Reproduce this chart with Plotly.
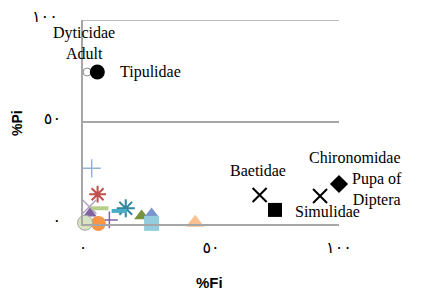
import plotly.graph_objects as go

# ---- data ----
tick_vals = [0, 50, 100]
tick_text = ["٠", "٥٠", "١٠٠"]

# labelled (black) taxa
black_names = ["Dyticidae Adult", "Tipulidae", "Baetidae", "Simulidae", "Chironomidae", "Pupa of Diptera"]
black_fi = [1.6, 5.6, 69.0, 75.0, 92.6, 100.0]
black_pi = [74.5, 74.5, 14.2, 6.9, 13.7, 19.6]

# unlabelled (coloured) taxa
color_fi = [3.4, 5.7, 2.5, 6.4, 2.7, 16.7, 14.2, 10.3, 22.9, 26.8, 26.8, 43.8, 6.0, -1.8, 0.8]
color_pi = [27.3, 14.6, 8.5, 7.7, 5.2, 7.7, 6.4, 2.0, 3.9, 5.2, 0.3, 0.6, 0.3, 1.1, 0.6]

# ---- styles ----
black_symbols = ["circle", "circle", "x-thin-open", "square", "x-thin-open", "diamond"]
black_sizes = [8, 15, 14, 14, 14, 14]
black_fill = ["white", "black", "black", "black", "black", "black"]
black_line = ["#888888", "black", "black", "black", "black", "black"]
black_lw = [1, 0, 2, 0, 2, 0]
# label offsets in pixels (dx, dy, anchor)
label_offsets = [(-3, 29, "center"), (21, 0, "left"), (-2, 25, "center"),
                 (52, -2, "center"), (35, 39, "center"), (38, -5, "center")]
label_text = ["Dyticidae<br>Adult", "Tipulidae", "Baetidae", "Simulidae", "Chironomidae", "Pupa of<br>Diptera"]

color_symbols = ["cross-thin-open", "asterisk-open", "x-thin-open", "line-ew-open", "triangle-up",
                 "asterisk-open", "line-ew-open", "cross-thin-open", "triangle-up", "triangle-up",
                 "square", "triangle-up", "circle", "square", "circle"]
color_colors = ["#95b3d7", "#c0504d", "#b3a2c7", "#b5cf8a", "#8064a2",
                "#31859c", "#4bacc6", "#8064a2", "#77933c", "#7a95d0",
                "#93cddd", "#fac090", "#f79646", "#b7dee8", "#d7e4bd"]
color_sizes = [13, 14, 14, 13, 12, 15, 11, 12, 13, 12, 15, 16, 15, 14, 15]
color_lw = [1.5, 2, 1.5, 4, 0, 2, 4, 1.5, 0, 0, 0, 0, 0, 1, 1]
color_lc = ["#95b3d7", "#c0504d", "#b3a2c7", "#b5cf8a", "#8064a2",
            "#31859c", "#4bacc6", "#8064a2", "#77933c", "#7a95d0",
            "#93cddd", "#fac090", "#f79646", "#4bacc6", "#a6a6a6"]

fig = go.Figure()

for i in range(len(color_fi)):
    fig.add_trace(go.Scatter(
        x=[color_fi[i]], y=[color_pi[i]], mode="markers", cliponaxis=False,
        marker=dict(symbol=color_symbols[i], size=color_sizes[i], color=color_colors[i],
                    line=dict(color=color_lc[i], width=color_lw[i])),
        showlegend=False, hoverinfo="skip"))

for i in range(len(black_fi)):
    fig.add_trace(go.Scatter(
        x=[black_fi[i]], y=[black_pi[i]], mode="markers", cliponaxis=False,
        marker=dict(symbol=black_symbols[i], size=black_sizes[i], color=black_fill[i],
                    line=dict(color=black_line[i], width=black_lw[i])),
        name=black_names[i], showlegend=False, hoverinfo="skip"))

annotations = []
serif = dict(family="Liberation Serif, Times New Roman, serif", size=16, color="black")
for i in range(len(black_fi)):
    dx, dy, anc = label_offsets[i]
    annotations.append(dict(x=black_fi[i], y=black_pi[i], xref="x", yref="y",
                            text=label_text[i], showarrow=False, xshift=dx, yshift=dy,
                            xanchor=anc, yanchor="middle", font=serif))

digit_font = dict(family="DejaVu Sans", size=16, color="black")
# top y tick label (placed as an annotation so it can sit slightly above its gridline)
annotations.append(dict(x=-0.09, y=tick_vals[2], xref="paper", yref="y", text=tick_text[2],
                        showarrow=False, xanchor="right", yanchor="middle", yshift=4,
                        font=digit_font))

annotations.append(dict(x=-0.258, y=0.495, xref="paper", yref="paper", text="<b>%Pi</b>",
                        textangle=-90, showarrow=False, xanchor="center", yanchor="middle",
                        font=dict(family="Liberation Sans", size=14, color="black")))
annotations.append(dict(x=0.496, y=-0.289, xref="paper", yref="paper", text="<b>%Fi</b>",
                        showarrow=False, xanchor="center", yanchor="middle",
                        font=dict(family="Liberation Sans", size=15, color="black")))
annotations.append(dict(x=1.285, y=-0.324, xref="paper", yref="paper", text="ب",
                        xanchor="left", yanchor="bottom", showarrow=False,
                        font=dict(family="DejaVu Sans", size=20, color="black")))

# top gridline at 100 (drawn explicitly so it is not hidden at the range edge)
shapes = [dict(type="line", xref="x", yref="y", x0=0, x1=100, y0=tick_vals[2], y1=tick_vals[2],
               line=dict(color="#a6a6a6", width=1.5), layer="below")]

# the page body has an 8px margin, so the margins are reduced on the left/top
fig.update_layout(
    width=421, height=293,
    margin=dict(l=75, r=90, t=12, b=77),
    plot_bgcolor="white", paper_bgcolor="white",
    annotations=annotations, shapes=shapes,
    xaxis=dict(range=[0, 100], tickvals=tick_vals, ticktext=tick_text, automargin=False,
               showgrid=False, zeroline=False, showline=True, linecolor="#a6a6a6", linewidth=1.5,
               ticks="", ticklabelstandoff=8, tickfont=digit_font),
    yaxis=dict(range=[0, 100], tickvals=tick_vals[:2], ticktext=tick_text[:2], automargin=False,
               showgrid=True, gridcolor="#a6a6a6", gridwidth=1.5, zeroline=False,
               showline=True, linecolor="#a6a6a6", linewidth=1.5,
               ticks="", ticklabelstandoff=17, ticklabelshift=-4, tickfont=digit_font),
)

fig.write_html("out.html")
